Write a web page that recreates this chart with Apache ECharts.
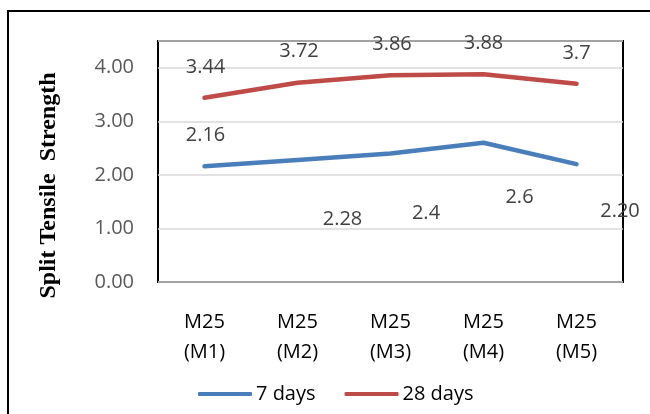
<!DOCTYPE html>
<html>
<head>
<meta charset="utf-8">
<script src="https://cdn.jsdelivr.net/npm/echarts@6/dist/echarts.min.js"></script>
<style>
  html, body { margin: 0; padding: 0; background: #fff; }
  #chart { width: 650px; height: 414px; }
</style>
</head>
<body>
<div id="chart"></div>
<script>
// Mix designations on the x axis
const categories = ['M25\n(M1)', 'M25\n(M2)', 'M25\n(M3)', 'M25\n(M4)', 'M25\n(M5)'];

// Split tensile strength values
const sevenDays = [2.16, 2.28, 2.4, 2.6, 2.2];
const twentyEightDays = [3.44, 3.72, 3.86, 3.88, 3.7];

// Text printed beside each point
const sevenDayLabels = ['2.16', '2.28', '2.4', '2.6', '2.20'];
const twentyEightDayLabels = ['3.44', '3.72', '3.86', '3.88', '3.7'];

// Y axis range
const yMin = 0;
const yMax = 4.5;
const yStep = 1;

const FONT = 'Open Sans';

// Where each value label sits relative to its point
const sevenOffsets = [[1, -31], [45, 59], [35.5, 59.5], [36, 55], [43.5, 47]];
const twentyEightOffsets = [[1, -30], [1.5, -31], [1.5, -31], [0, -31], [0, -31]];

function withLabels(values, texts, offsets) {
  return values.map((v, i) => ({
    value: v,
    label: { offset: offsets[i], formatter: texts[i] }
  }));
}

const chart = echarts.init(document.getElementById('chart'), null, { renderer: 'canvas' });

chart.setOption({
  backgroundColor: '#ffffff',
  animation: false,
  grid: {
    left: 158, right: 27, top: 41, bottom: 132,
    show: true, borderColor: '#000000', borderWidth: 2, backgroundColor: 'transparent'
  },
  xAxis: {
    type: 'category',
    data: categories,
    boundaryGap: true,
    axisLine: { show: false },
    axisTick: { show: false },
    axisLabel: {
      margin: 25, fontFamily: FONT, fontSize: 20, lineHeight: 30, color: '#000000'
    }
  },
  yAxis: {
    type: 'value',
    min: yMin, max: yMax, interval: yStep,
    axisLine: { show: false },
    axisTick: { show: false },
    splitLine: { lineStyle: { color: '#d9d9d9', width: 1.5 } },
    axisLabel: {
      showMaxLabel: false,
      margin: 24, fontFamily: FONT, fontSize: 20, color: '#595959',
      formatter: v => v.toFixed(2)
    }
  },
  legend: {
    left: 193, top: 379,
    itemWidth: 54, itemHeight: 4, itemGap: 29,
    icon: 'roundRect',
    textStyle: { fontFamily: FONT, fontSize: 20, color: '#000000', padding: [0, 0, 0, -1] },
    data: ['7 days', '28 days']
  },
  graphic: [
    {
      type: 'rect',
      shape: { x: 8, y: 11, width: 700, height: 500 },
      style: { fill: 'none', stroke: '#000000', lineWidth: 2 },
      silent: true, z: -1
    },
    {
      type: 'text',
      x: 49, y: 185.5,
      rotation: Math.PI / 2,
      style: {
        text: 'Split Tensile  Strength',
        fontFamily: 'Liberation Serif', fontWeight: 'bold', fontSize: 24,
        fill: '#000000', textAlign: 'center', textVerticalAlign: 'middle'
      }
    }
  ],
  series: [
    {
      name: '7 days',
      type: 'line',
      data: withLabels(sevenDays, sevenDayLabels, sevenOffsets),
      symbol: 'circle', symbolSize: 1,
      lineStyle: { color: '#4a7ebb', width: 4.5, cap: 'round', join: 'round' },
      itemStyle: { color: '#4a7ebb' },
      label: {
        show: true, position: 'inside',
        fontFamily: FONT, fontSize: 20, color: '#404040'
      },
      z: 3
    },
    {
      name: '28 days',
      type: 'line',
      data: withLabels(twentyEightDays, twentyEightDayLabels, twentyEightOffsets),
      symbol: 'circle', symbolSize: 1,
      lineStyle: { color: '#be4b48', width: 4.5, cap: 'round', join: 'round' },
      itemStyle: { color: '#be4b48' },
      label: {
        show: true, position: 'inside',
        fontFamily: FONT, fontSize: 20, color: '#404040'
      },
      z: 3
    }
  ]
});
</script>
</body>
</html>
